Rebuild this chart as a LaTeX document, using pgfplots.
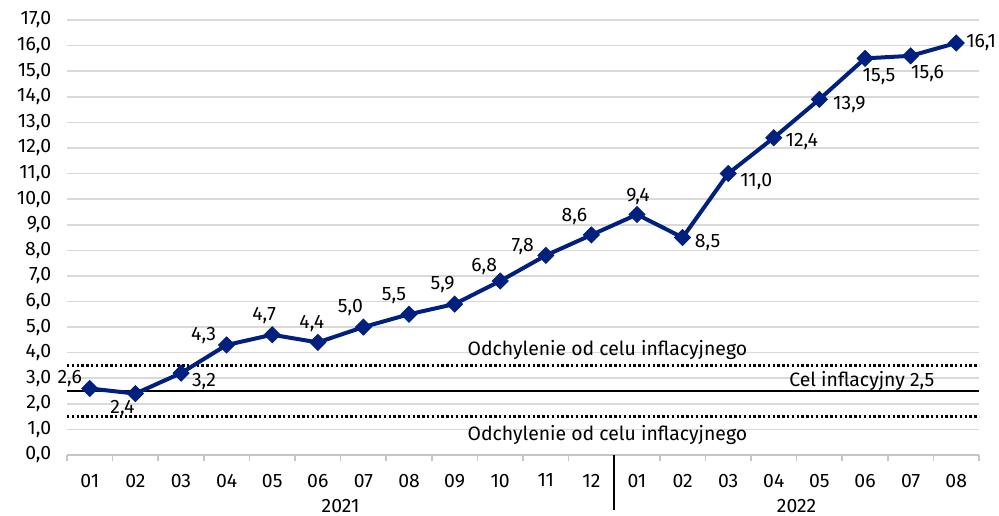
\documentclass[border=0pt]{standalone}
\usepackage{fontspec}
\setmainfont{Fira Sans}
\usepackage{pgfplots}
\pgfplotsset{compat=1.18}
\definecolor{navy}{RGB}{0,32,128}
\begin{document}
\fontsize{9.7}{11.5}\selectfont
\begin{tikzpicture}
\begin{axis}[
 width=456pt, height=217.5pt, scale only axis,
 xmin=-0.5, xmax=19.5, ymin=0, ymax=17,
 clip=false,
 axis x line*=bottom, axis y line*=left,
 y axis line style={draw=none},
 x axis line style={draw=gray!45, line width=0.8pt},
 ytick={0,1,...,17},
 ytick style={draw=none},
 yticklabel style={xshift=-1.5pt},
 ymajorgrids, grid style={gray!30, line width=0.8pt},
 /pgf/number format/fixed, /pgf/number format/fixed zerofill,
 /pgf/number format/precision=1, /pgf/number format/use comma,
 /pgf/number format/assume math mode=true,
 xtick={-0.5,0.5,1.5,2.5,3.5,4.5,5.5,6.5,7.5,8.5,9.5,10.5,11.5,12.5,13.5,14.5,15.5,16.5,17.5,18.5,19.5},
 x tick label as interval,
 xticklabels={01,02,03,04,05,06,07,08,09,10,11,12,01,02,03,04,05,06,07,08},
 tick align=outside, major tick length=3pt,
 xtick style={draw=gray!45, line width=0.8pt},
 xticklabel style={yshift=-3pt},
 tick label style={font=\fontsize{9.7}{11.5}\selectfont},
]
\addplot[black, line width=1pt, forget plot] coordinates {(-0.5,2.5) (19.5,2.5)};
\addplot[black, line width=1.2pt, dash pattern=on 1.2pt off 1.2pt, forget plot] coordinates {(-0.5,3.5) (19.5,3.5)};
\addplot[black, line width=1.2pt, dash pattern=on 1.2pt off 1.2pt, forget plot] coordinates {(-0.5,1.5) (19.5,1.5)};
\addplot[navy, line width=2pt, mark=square*, mark size=2.8pt, mark options={rotate=45, fill=navy, draw=navy, line width=0.5pt}] coordinates {
(0,2.6) (1,2.4) (2,3.2) (3,4.3) (4,4.7) (5,4.4) (6,5.0) (7,5.5) (8,5.9) (9,6.8) (10,7.8) (11,8.6)
(12,9.4) (13,8.5) (14,11.0) (15,12.4) (16,13.9) (17,15.5) (18,15.6) (19,16.1)};
\node at (axis cs:0,2.6) [xshift=-10pt, yshift=5pt] {2,6};
\node at (axis cs:1,2.4) [xshift=-6.5pt, yshift=-7.5pt] {2,4};
\node at (axis cs:2,3.2) [xshift=11.5pt, yshift=-4pt] {3,2};
\node at (axis cs:3,4.3) [xshift=-11.5pt, yshift=4.5pt] {4,3};
\node at (axis cs:4,4.7) [xshift=-4pt, yshift=9.5pt] {4,7};
\node at (axis cs:5,4.4) [xshift=-3pt, yshift=9.5pt] {4,4};
\node at (axis cs:6,5.0) [xshift=-6.5pt, yshift=10pt] {5,0};
\node at (axis cs:7,5.5) [xshift=-7.5pt, yshift=9.5pt] {5,5};
\node at (axis cs:8,5.9) [xshift=-6pt, yshift=10pt] {5,9};
\node at (axis cs:9,6.8) [xshift=-8pt, yshift=7pt] {6,8};
\node at (axis cs:10,7.8) [xshift=-11.5pt, yshift=4.5pt] {7,8};
\node at (axis cs:11,8.6) [xshift=-8.5pt, yshift=9pt] {8,6};
\node at (axis cs:12,9.4) [xshift=0.5pt, yshift=9pt] {9,4};
\node at (axis cs:13,8.5) [xshift=12.5pt, yshift=-2.5pt] {8,5};
\node at (axis cs:14,11.0) [xshift=14pt, yshift=-4pt] {11,0};
\node at (axis cs:15,12.4) [xshift=14pt, yshift=-2pt] {12,4};
\node at (axis cs:16,13.9) [xshift=15pt, yshift=-2.5pt] {13,9};
\node at (axis cs:17,15.5) [xshift=7pt, yshift=-9pt] {15,5};
\node at (axis cs:18,15.6) [xshift=8.5pt, yshift=-9pt] {15,6};
\node at (axis cs:19,16.1) [xshift=12.5pt, yshift=0.5pt] {16,1};
\node at (axis cs:11.35,4.1) {Odchylenie od celu inflacyjnego};
\node at (axis cs:11.35,0.78) {Odchylenie od celu inflacyjnego};
\node at (axis cs:16.93,2.89) {Cel inflacyjny 2,5};
\draw[black, line width=1pt] (axis cs:11.5,0) -- ++(0pt,-27.5pt);
\node at (axis cs:5.5,0) [yshift=-25.5pt] {2021};
\node at (axis cs:15.5,0) [yshift=-25.5pt] {2022};
\end{axis}
\pgfresetboundingbox
\path[use as bounding box] (-33.5pt,-30pt) rectangle (466pt,227.5pt);
\end{tikzpicture}
\end{document}
